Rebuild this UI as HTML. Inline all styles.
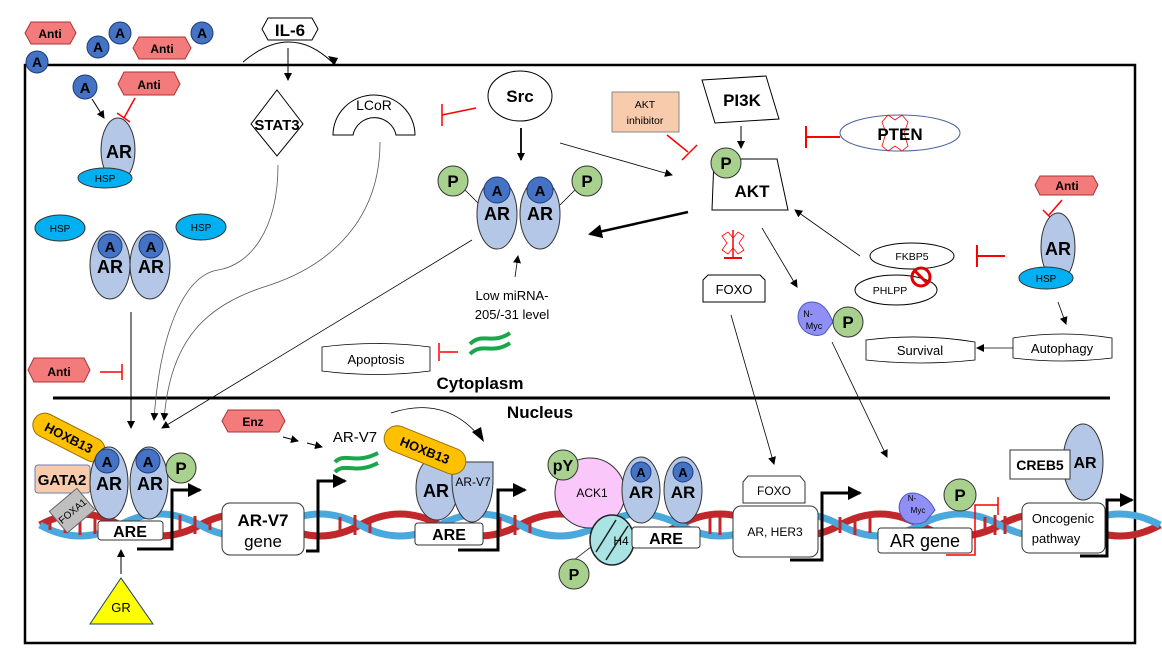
<!DOCTYPE html>
<html><head><meta charset="utf-8"><style>
html,body{margin:0;padding:0;background:#fff}
svg{display:block;font-family:"Liberation Sans",sans-serif}
</style></head><body>
<svg width="1162" height="659" viewBox="0 0 1162 659" xmlns="http://www.w3.org/2000/svg">
<defs>
<marker id="ah" markerWidth="8" markerHeight="8" refX="7" refY="4" orient="auto" markerUnits="userSpaceOnUse"><path d="M0,0 L8,4 L0,8 z" fill="#000"/></marker>
<marker id="ahb" markerWidth="14" markerHeight="14" refX="12" refY="7" orient="auto" markerUnits="userSpaceOnUse"><path d="M0,0 L14,7 L0,14 z" fill="#000"/></marker>
</defs>
<rect x="25" y="65" width="1110" height="578" fill="none" stroke="#000" stroke-width="2.5"/>
<line x1="53" y1="398" x2="1110" y2="398" stroke="#000" stroke-width="3"/>

<!-- DNA -->
<g>
<path d="M40,525 q40,-22 80,0 t80,0 t80,0 t80,0 t80,0 t80,0 t80,0 t80,0 t80,0 t80,0 t80,0 t80,0 t80,0 t80,0" fill="none" stroke="#c0282c" stroke-width="7"/>
<path d="M40,525 q40,22 80,0 t80,0 t80,0 t80,0 t80,0 t80,0 t80,0 t80,0 t80,0 t80,0 t80,0 t80,0 t80,0 t80,0" fill="none" stroke="#4aa8dc" stroke-width="7"/>
<path d="M50,520 V530 M65,517 V533 M80,515 V535 M95,516 V534 M180,515 V535 M195,516 V534 M210,520 V530 M340,517 V533 M355,515 V535 M370,517 V533 M500,517 V533 M515,515 V535 M530,517 V533 M710,516 V534 M720,515 V535 M840,517 V533 M855,515 V535 M870,517 V533 M985,517 V533 M995,515 V535 M1005,516 V534" stroke="#c0282c" stroke-width="3"/>
</g>

<!-- outside top-left -->
<g font-weight="bold" font-size="12" text-anchor="middle">
<polygon points="25,33 31,22 70,22 76,33 70,44 31,44" fill="#f47b7b" stroke="#a33"/><text x="50" y="38">Anti</text>
<polygon points="133,48 139,37 185,37 191,48 185,59 139,59" fill="#f47b7b" stroke="#a33"/><text x="162" y="53">Anti</text>
</g>
<g fill="#4472c4" stroke="#1f3c78">
<circle cx="37" cy="62" r="11"/><circle cx="98" cy="47" r="11"/><circle cx="120" cy="33" r="11"/><circle cx="202" cy="33" r="11"/>
</g>
<g font-weight="bold" font-size="14" text-anchor="middle" fill="#000">
<text x="37" y="67">A</text><text x="98" y="52">A</text><text x="120" y="38">A</text><text x="202" y="38">A</text>
</g>
<polygon points="262,29 268,18 312,18 318,29 312,40 268,40" fill="#fff" stroke="#000"/>
<text x="290" y="36" font-size="17" font-weight="bold" text-anchor="middle">IL-6</text>
<path d="M243,62 Q290,22 332,62" fill="none" stroke="#000"/>
<polygon points="328,56 334,66 338,58" fill="#000"/>
<line x1="288" y1="48" x2="288" y2="80" stroke="#000" marker-end="url(#ah)"/>

<!-- inside top-left -->
<circle cx="85" cy="87" r="12" fill="#4472c4" stroke="#1f3c78"/><text x="85" y="93" font-size="15" font-weight="bold" text-anchor="middle">A</text>
<line x1="92" y1="99" x2="104" y2="118" stroke="#000" marker-end="url(#ah)"/>
<polygon points="118,84 124,72 174,72 180,84 174,95 124,95" fill="#f47b7b" stroke="#a33"/><text x="149" y="89" font-size="12" font-weight="bold" text-anchor="middle">Anti</text>
<line x1="135" y1="98" x2="124" y2="118" stroke="red" stroke-width="1.5"/><line x1="117" y1="113" x2="130" y2="122" stroke="red" stroke-width="1.5"/>
<ellipse cx="118" cy="150" rx="17" ry="32" fill="#b4c7e7" stroke="#333"/>
<text x="119" y="158" font-size="18" font-weight="bold" text-anchor="middle">AR</text>
<ellipse cx="105" cy="178" rx="27" ry="10" fill="#00b0f0" stroke="#333"/><text x="105" y="182" font-size="10" text-anchor="middle">HSP</text>

<ellipse cx="60" cy="228" rx="25" ry="13" fill="#00b0f0" stroke="#333"/><text x="60" y="232" font-size="10" text-anchor="middle">HSP</text>
<ellipse cx="201" cy="227" rx="25" ry="13" fill="#00b0f0" stroke="#333"/><text x="201" y="231" font-size="10" text-anchor="middle">HSP</text>
<ellipse cx="110" cy="265" rx="20" ry="34" fill="#b4c7e7" stroke="#333"/><ellipse cx="150" cy="265" rx="20" ry="34" fill="#b4c7e7" stroke="#333"/>
<circle cx="110" cy="246" r="12" fill="#4472c4" stroke="#1f3c78"/><circle cx="151" cy="246" r="12" fill="#4472c4" stroke="#1f3c78"/>
<g font-weight="bold" text-anchor="middle"><text x="110" y="252" font-size="15">A</text><text x="151" y="252" font-size="15">A</text>
<text x="110" y="273" font-size="18">AR</text><text x="151" y="273" font-size="18">AR</text></g>
<line x1="131" y1="312" x2="131" y2="428" stroke="#000" marker-end="url(#ah)"/>
<polygon points="28,370 34,358 84,358 90,370 84,382 34,382" fill="#f47b7b" stroke="#a33"/><text x="59" y="376" font-size="12" font-weight="bold" text-anchor="middle">Anti</text>
<line x1="100" y1="372" x2="122" y2="372" stroke="red" stroke-width="1.5"/><line x1="122" y1="364" x2="122" y2="380" stroke="red" stroke-width="1.5"/>

<!-- STAT3 / LCoR -->
<polygon points="277,90 303,124 277,156 251,124" fill="#fff" stroke="#000"/>
<text x="277" y="130" font-size="15" font-weight="bold" text-anchor="middle">STAT3</text>
<path d="M333,135 A41,40 0 0 1 415,135 L396,135 A22,22 0 0 0 353,135 Z" fill="#fff" stroke="#000"/>
<text x="374" y="110" font-size="14" text-anchor="middle">LCoR</text>
<path d="M278,165 C278,230 250,265 218,270 C185,275 160,330 154,420" fill="none" stroke="#555" stroke-width="0.8" marker-end="url(#ah)"/>
<path d="M380,142 C380,220 330,265 270,285 C205,305 170,340 164,420" fill="none" stroke="#555" stroke-width="0.8" marker-end="url(#ah)"/>
<!-- Src -->
<ellipse cx="520" cy="96" rx="32" ry="25" fill="#fff" stroke="#000"/>
<text x="520" y="102" font-size="17" font-weight="bold" text-anchor="middle">Src</text>
<line x1="442" y1="115" x2="476" y2="108" stroke="red" stroke-width="1.5"/><line x1="442" y1="104" x2="442" y2="126" stroke="red" stroke-width="1.5"/>
<line x1="521" y1="128" x2="521" y2="160" stroke="#000" stroke-width="1.8" marker-end="url(#ah)"/>
<line x1="560" y1="143" x2="672" y2="175" stroke="#000" stroke-width="0.8" marker-end="url(#ah)"/>

<!-- AR dimer cytoplasm -->
<line x1="465" y1="190" x2="480" y2="205" stroke="#000" stroke-width="0.8"/><line x1="575" y1="190" x2="560" y2="205" stroke="#000" stroke-width="0.8"/>
<ellipse cx="497" cy="214" rx="20" ry="35" fill="#b4c7e7" stroke="#333"/><ellipse cx="540" cy="214" rx="20" ry="35" fill="#b4c7e7" stroke="#333"/>
<circle cx="497" cy="190" r="13" fill="#4472c4" stroke="#1f3c78"/><circle cx="540" cy="190" r="13" fill="#4472c4" stroke="#1f3c78"/>
<circle cx="453" cy="181" r="15" fill="#a9d18e" stroke="#333"/><circle cx="587" cy="181" r="15" fill="#a9d18e" stroke="#333"/>
<g font-weight="bold" text-anchor="middle"><text x="497" y="196" font-size="15">A</text><text x="540" y="196" font-size="15">A</text>
<text x="497" y="220" font-size="18">AR</text><text x="540" y="220" font-size="18">AR</text>
<text x="453" y="187" font-size="17">P</text><text x="587" y="187" font-size="17">P</text></g>
<line x1="472" y1="240" x2="162" y2="428" stroke="#000" stroke-width="0.8" marker-end="url(#ah)"/>
<line x1="515" y1="277" x2="518" y2="256" stroke="#000" stroke-width="0.8" marker-end="url(#ah)"/>
<text x="512" y="300" font-size="13" text-anchor="middle">Low miRNA-</text>
<text x="512" y="319" font-size="13" text-anchor="middle">205/-31 level</text>
<path d="M470,344 C482,332 492,345 510,333 M470,354 C482,342 492,355 510,343" fill="none" stroke="#1aa64a" stroke-width="4"/>
<line x1="440" y1="352" x2="458" y2="352" stroke="red" stroke-width="1.5"/><line x1="439" y1="343" x2="439" y2="361" stroke="red" stroke-width="1.5"/>
<path d="M322,347 Q376,340 430,347 V371 Q376,378 322,371 Z" fill="#fff" stroke="#000" stroke-width="0.8"/>
<text x="376" y="364" font-size="13" text-anchor="middle">Apoptosis</text>
<text x="480" y="389" font-size="17" font-weight="bold" text-anchor="middle">Cytoplasm</text>
<text x="540" y="418" font-size="17" font-weight="bold" text-anchor="middle">Nucleus</text>

<!-- AKT region -->
<rect x="612" y="92" width="67" height="40" fill="#f8cbad" stroke="#888"/>
<text x="645" y="108" font-size="10.5" text-anchor="middle">AKT</text><text x="645" y="124" font-size="10.5" text-anchor="middle">inhibitor</text>
<line x1="667" y1="135" x2="688" y2="152" stroke="red" stroke-width="1.5"/><line x1="682" y1="160" x2="697" y2="145" stroke="red" stroke-width="1.5"/>
<polygon points="702,80 766,76 779,119 715,123" fill="#fff" stroke="#000"/>
<text x="742" y="106" font-size="17" font-weight="bold" text-anchor="middle">PI3K</text>
<line x1="741" y1="126" x2="741" y2="148" stroke="#000" marker-end="url(#ah)"/>
<polygon points="714,159 777,159 788,210 712,210" fill="#fff" stroke="#000"/>
<circle cx="726" cy="163" r="15" fill="#a9d18e" stroke="#333"/><text x="726" y="169" font-size="17" font-weight="bold" text-anchor="middle">P</text>
<text x="752" y="197" font-size="17" font-weight="bold" text-anchor="middle">AKT</text>
<line x1="688" y1="212" x2="590" y2="234" stroke="#000" stroke-width="2.5" marker-end="url(#ahb)"/>
<line x1="806" y1="137" x2="840" y2="137" stroke="red" stroke-width="2"/><line x1="806" y1="126" x2="806" y2="148" stroke="red" stroke-width="2"/>
<ellipse cx="900" cy="133" rx="60" ry="18" fill="#fff" stroke="#4a64a0"/>
<path d="M888,115 L895,120 L902,115 L908,122 L904,133 L908,146 L902,151 L895,146 L888,151 L882,146 L886,133 L882,122 Z" fill="none" stroke="red" stroke-width="0.8"/>
<text x="900" y="140" font-size="17" font-weight="bold" text-anchor="middle">PTEN</text>
<path d="M722,236 L728,232 L733,238 L738,232 L744,236 L739,243 L744,250 L738,254 L733,248 L728,254 L722,250 L727,243 Z" fill="none" stroke="red" stroke-width="0.8"/>
<line x1="733" y1="230" x2="733" y2="258" stroke="red" stroke-width="1.5"/><line x1="724" y1="258" x2="742" y2="258" stroke="red" stroke-width="2"/>
<polygon points="703,280 708,275 760,275 765,280 765,302 703,302" fill="#fff" stroke="#000"/>
<text x="734" y="294" font-size="13" text-anchor="middle">FOXO</text>
<line x1="762" y1="228" x2="797" y2="287" stroke="#000" stroke-width="0.8" marker-end="url(#ah)"/>
<path d="M812,302 C800,302 795,315 800,325 C805,335 818,338 825,333 L833,322 C828,310 822,302 812,302Z" fill="#8f8ff5" stroke="#4a5ac0"/>
<text x="808" y="317" font-size="9" text-anchor="middle">N-</text><text x="814" y="329" font-size="9" text-anchor="middle">Myc</text>
<circle cx="848" cy="322" r="15" fill="#a9d18e" stroke="#333"/><text x="848" y="328" font-size="17" font-weight="bold" text-anchor="middle">P</text>
<line x1="832" y1="342" x2="887" y2="457" stroke="#000" stroke-width="0.8" marker-end="url(#ah)"/>
<line x1="731" y1="315" x2="774" y2="464" stroke="#000" stroke-width="0.8" marker-end="url(#ah)"/>

<ellipse cx="912" cy="256" rx="42" ry="13" fill="#fff" stroke="#000"/><text x="912" y="260" font-size="10.5" text-anchor="middle">FKBP5</text>
<ellipse cx="896" cy="290" rx="41" ry="15" fill="#fff" stroke="#000"/><text x="890" y="294" font-size="10.5" text-anchor="middle">PHLPP</text>
<circle cx="921" cy="277" r="9" fill="none" stroke="#d00" stroke-width="3"/><line x1="915" y1="271" x2="927" y2="283" stroke="#d00" stroke-width="3"/>
<line x1="860" y1="256" x2="795" y2="210" stroke="#000" stroke-width="0.8" marker-end="url(#ah)"/>
<line x1="977" y1="256" x2="1005" y2="256" stroke="red" stroke-width="2"/><line x1="977" y1="245" x2="977" y2="267" stroke="red" stroke-width="2"/>
<polygon points="1035,185 1040,176 1093,176 1098,185 1093,195 1040,195" fill="#f47b7b" stroke="#a33"/><text x="1067" y="190" font-size="12" font-weight="bold" text-anchor="middle">Anti</text>
<line x1="1062" y1="200" x2="1049" y2="215" stroke="red" stroke-width="1.5"/><line x1="1043" y1="210" x2="1053" y2="220" stroke="red" stroke-width="1.5"/>
<ellipse cx="1058" cy="247" rx="17" ry="34" fill="#b4c7e7" stroke="#333"/>
<text x="1058" y="255" font-size="18" font-weight="bold" text-anchor="middle">AR</text>
<ellipse cx="1046" cy="278" rx="27" ry="11" fill="#00b0f0" stroke="#333"/><text x="1046" y="282" font-size="10" text-anchor="middle">HSP</text>
<line x1="1058" y1="302" x2="1066" y2="324" stroke="#000" stroke-width="0.8" marker-end="url(#ah)"/>
<path d="M1013,338 Q1062,330 1112,338 V358 Q1062,364 1013,358 Z" fill="#fff" stroke="#000" stroke-width="0.8"/>
<text x="1062" y="353" font-size="13" text-anchor="middle">Autophagy</text>
<path d="M866,340 Q920,333 975,342 V360 Q920,366 866,360 Z" fill="#fff" stroke="#000" stroke-width="0.8"/>
<text x="920" y="355" font-size="13" text-anchor="middle">Survival</text>
<line x1="1013" y1="348" x2="977" y2="348" stroke="#000" stroke-width="0.8" marker-end="url(#ah)"/>

<!-- Nucleus left -->
<g transform="rotate(27 68 437)"><rect x="30" y="425" width="78" height="24" rx="12" fill="#ffc000" stroke="#9a7000"/>
<text x="69" y="442" font-size="13" font-weight="bold" text-anchor="middle">HOXB13</text></g>
<rect x="35" y="465" width="55" height="28" rx="3" fill="#f8cbad" stroke="#6a7fb0"/><text x="62" y="485" font-size="15" font-weight="bold" text-anchor="middle">GATA2</text>
<g transform="rotate(-40 72 512)"><rect x="55" y="497" width="36" height="28" fill="#bfbfbf" stroke="#666"/>
<text x="73" y="515" font-size="10" text-anchor="middle">FOXA1</text></g>
<ellipse cx="109" cy="483" rx="19" ry="36" fill="#b4c7e7" stroke="#333"/><ellipse cx="149" cy="483" rx="19" ry="36" fill="#b4c7e7" stroke="#333"/>
<circle cx="107" cy="461" r="12" fill="#4472c4" stroke="#1f3c78"/><circle cx="148" cy="461" r="12" fill="#4472c4" stroke="#1f3c78"/>
<circle cx="181" cy="468" r="15" fill="#a9d18e" stroke="#333"/>
<g font-weight="bold" text-anchor="middle"><text x="107" y="467" font-size="15">A</text><text x="148" y="467" font-size="15">A</text>
<text x="109" y="490" font-size="18">AR</text><text x="150" y="490" font-size="18">AR</text><text x="181" y="474" font-size="17">P</text></g>
<rect x="98" y="521" width="65" height="19" rx="3" fill="#fff" stroke="#333"/><text x="130" y="537" font-size="16" font-weight="bold" text-anchor="middle">ARE</text>
<polyline points="137,549 172,549 172,490 200,490" fill="none" stroke="#000" stroke-width="3" marker-end="url(#ahb)"/>
<line x1="121" y1="574" x2="121" y2="550" stroke="#000" marker-end="url(#ah)"/>
<polygon points="90,624 121,578 153,624" fill="#ffff00" stroke="#1f3c78"/><text x="121" y="612" font-size="13" text-anchor="middle">GR</text>

<polygon points="222,421 228,410 279,410 285,421 279,432 228,432" fill="#f47b7b" stroke="#a33"/><text x="253" y="426" font-size="12" font-weight="bold" text-anchor="middle">Enz</text>
<line x1="283" y1="437" x2="298" y2="441" stroke="#000" marker-end="url(#ah)"/>
<line x1="307" y1="443" x2="322" y2="447" stroke="#000" marker-end="url(#ah)"/>
<text x="355" y="442" font-size="15" text-anchor="middle">AR-V7</text>
<path d="M335,462 C345,452 355,465 378,453 M335,472 C345,462 355,475 378,463" fill="none" stroke="#1aa64a" stroke-width="4"/>
<rect x="222" y="503" width="82" height="52" rx="8" fill="#fff" stroke="#333"/>
<text x="263" y="526" font-size="17" font-weight="bold" text-anchor="middle">AR-V7</text><text x="263" y="547" font-size="17" text-anchor="middle">gene</text>
<polyline points="306,551 318,551 318,481 345,481" fill="none" stroke="#000" stroke-width="3" marker-end="url(#ahb)"/>
<path d="M391,413 Q445,395 480,437" fill="none" stroke="#000" stroke-width="0.8"/><polygon points="472,432 484,442 481,427" fill="#000"/>
<ellipse cx="437" cy="488" rx="21" ry="32" fill="#b4c7e7" stroke="#333"/>
<path d="M452,462 H493 V480 C493,505 482,522 472,522 C462,522 452,505 452,480 Z" fill="#b4c7e7" stroke="#333"/>
<g transform="rotate(22 425 450)"><rect x="382" y="437" width="86" height="26" rx="13" fill="#ffc000" stroke="#9a7000"/>
<text x="425" y="455" font-size="13" font-weight="bold" text-anchor="middle">HOXB13</text></g>
<text x="436" y="497" font-size="18" font-weight="bold" text-anchor="middle">AR</text>
<text x="473" y="486" font-size="12" text-anchor="middle">AR-V7</text>
<rect x="415" y="523" width="68" height="22" rx="3" fill="#fff" stroke="#333"/><text x="449" y="540" font-size="16" font-weight="bold" text-anchor="middle">ARE</text>
<polyline points="458,550 498,550 498,490 525,490" fill="none" stroke="#000" stroke-width="3" marker-end="url(#ahb)"/>

<!-- ACK1 complex -->
<circle cx="590" cy="493" r="35" fill="#f9c7f9" stroke="#333"/>
<circle cx="563" cy="465" r="15" fill="#a9d18e" stroke="#333"/><text x="563" y="471" font-size="16" font-weight="bold" text-anchor="middle">pY</text>
<text x="592" y="497" font-size="12" text-anchor="middle">ACK1</text>
<ellipse cx="641" cy="490" rx="19" ry="33" fill="#b4c7e7" stroke="#333"/><ellipse cx="683" cy="490" rx="19" ry="33" fill="#b4c7e7" stroke="#333"/>
<circle cx="641" cy="472" r="10" fill="#4472c4" stroke="#1f3c78"/><circle cx="683" cy="472" r="10" fill="#4472c4" stroke="#1f3c78"/>
<g font-weight="bold" text-anchor="middle"><text x="641" y="477" font-size="13">A</text><text x="683" y="477" font-size="13">A</text>
<text x="641" y="498" font-size="17">AR</text><text x="683" y="498" font-size="17">AR</text></g>
<line x1="574" y1="560" x2="600" y2="540" stroke="#333" stroke-width="0.8"/>
<ellipse cx="612" cy="540" rx="22" ry="25" fill="#a9e3e3" stroke="#222" stroke-width="1.5"/>
<path d="M596,552 Q606,536 616,520 M606,560 Q616,544 628,526" fill="none" stroke="#222" stroke-width="1.5"/>
<text x="621" y="545" font-size="12" text-anchor="middle">H4</text>
<circle cx="574" cy="574" r="15" fill="#a9d18e" stroke="#333"/><text x="574" y="580" font-size="16" font-weight="bold" text-anchor="middle">P</text>
<rect x="632" y="527" width="68" height="21" rx="3" fill="#fff" stroke="#333"/><text x="666" y="544" font-size="16" font-weight="bold" text-anchor="middle">ARE</text>

<polygon points="743,482 748,476 800,476 805,482 805,503 743,503" fill="#fff" stroke="#333"/>
<text x="774" y="495" font-size="12" text-anchor="middle">FOXO</text>
<rect x="733" y="506" width="85" height="51" rx="8" fill="#fff" stroke="#333"/>
<text x="775" y="536" font-size="12" text-anchor="middle">AR, HER3</text>
<polyline points="790,560 822,560 822,493 860,493" fill="none" stroke="#000" stroke-width="3" marker-end="url(#ahb)"/>

<!-- right nucleus -->
<path d="M912,493 C902,493 896,505 901,515 C906,525 918,526 926,521 L935,510 C930,500 922,493 912,493Z" fill="#8f8ff5" stroke="#4a5ac0"/>
<text x="912" y="501" font-size="8" text-anchor="middle">N-</text><text x="918" y="513" font-size="8" text-anchor="middle">Myc</text>
<circle cx="960" cy="495" r="16" fill="#a9d18e" stroke="#333"/><text x="960" y="501" font-size="17" font-weight="bold" text-anchor="middle">P</text>
<rect x="878" y="528" width="94" height="25" rx="3" fill="#fff" stroke="#333"/><text x="925" y="547" font-size="18" text-anchor="middle">AR gene</text>
<polyline points="946,555 975,555 975,505 998,505" fill="none" stroke="red" stroke-width="1.5"/>
<line x1="998" y1="497" x2="998" y2="515" stroke="red" stroke-width="1.5"/>
<ellipse cx="1083" cy="462" rx="20" ry="38" fill="#b4c7e7" stroke="#333"/>
<rect x="1010" y="450" width="60" height="29" fill="#fff" stroke="#333"/>
<text x="1040" y="470" font-size="14" font-weight="bold" text-anchor="middle">CREB5</text>
<text x="1085" y="468" font-size="16" font-weight="bold" text-anchor="middle">AR</text>
<rect x="1022" y="503" width="83" height="50" rx="7" fill="#fff" stroke="#333"/>
<text x="1063" y="523" font-size="13" text-anchor="middle">Oncogenic</text><text x="1056" y="543" font-size="13" text-anchor="middle">pathway</text>
<polyline points="1080,556 1107,556 1107,500 1132,500" fill="none" stroke="#000" stroke-width="3" marker-end="url(#ahb)"/>
</svg>
</body></html>
